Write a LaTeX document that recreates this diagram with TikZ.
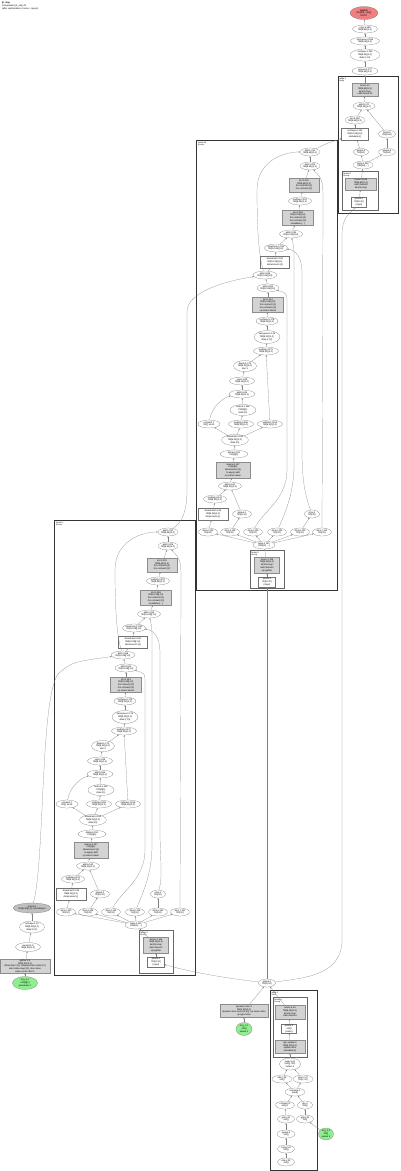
\documentclass[tikz,border=0pt]{standalone}
\usepackage{fontspec}
\setmainfont{Liberation Sans}
\usetikzlibrary{shapes.geometric,arrows.meta}
\definecolor{redn}{RGB}{240,128,128}
\definecolor{grn}{RGB}{144,238,144}
\definecolor{gbx}{RGB}{211,211,211}
\definecolor{gel}{RGB}{192,192,192}
\newcommand{\lyA}{\{1,0\}}
\tikzset{
 every node/.style={font=\fontsize{2.3}{2.7}\selectfont},
 ell/.style={ellipse, draw=black!55, line width=0.2pt, fill=white, inner sep=0pt, align=center},
 gbox/.style={rectangle, draw=black!45, line width=0.2pt, fill=gbx, inner sep=0.4pt, align=center},
 wbox/.style={rectangle, draw=black!55, line width=0.2pt, fill=white, inner sep=0.4pt, align=center},
 sz/.style 2 args={minimum width=#1pt, minimum height=#2pt},
 edg/.style={draw=black!50, line width=0.2pt, -{Stealth[length=1.6pt,width=1.3pt]}},
 clus/.style={draw=black!80, line width=0.45pt},
 iclus/.style={draw=black!60, line width=0.7pt},
 lab/.style={anchor=north west, inner sep=0.3pt, align=left, font=\fontsize{2.1}{2.5}\selectfont},
}
% #1 prefix, #2 shift, #3 n24 x, #4 inner cluster x, #5 n23 x, #6 bottom y
\newcommand{\fuscluster}[6]{%
\begin{scope}[shift={#2}]
\draw[clus] (196.7,140) rectangle (337,#6);
\node[lab] (#1lab) at (197.7,141) {fusion.#1\\kLoop};
\node[ell, sz={20}{8}] (#1n1) at (310,152) {add.1.210\\f32[8,64]\lyA};
\node[ell, sz={20}{8}] (#1n2) at (310,166) {add.0.209\\f32[8,64]\lyA};
\node[gbox, sz={30}{14}] (#1b1) at (304,185) {dot.3.205\\f32[8,64]\lyA\\lhs contract=\{1\}\\rhs contract=\{0\}};
\node[ell, sz={23}{8}] (#1n3) at (300,201) {multiply.2.201\\f32[8,64]\lyA};
\node[gbox, sz={31}{15}] (#1b2) at (298,218) {dot.2.198\\f32[8,128]\lyA\\lhs contract=\{1\}\\rhs contract=\{0\}\\metadata=\{...\}};
\node[ell, sz={23}{8}] (#1n4) at (291,234) {add.2.195\\f32[8,128]\lyA};
\node[ell, sz={23}{8}] (#1n5) at (276,248) {maximum.1.192\\f32[8,128]\lyA};
\node[wbox, sz={29}{12}] (#1b3) at (275,262) {broadcast.3.190\\f32[8,128]\lyA\\dimensions=\{1\}};
\node[ell, sz={24}{8}] (#1n6) at (265,275) {add.3.188\\f32[8,128]\lyA};
\node[ell, sz={22}{8}] (#1n7) at (268,288) {add.4.185\\f32[8,128]\lyA};
\node[gbox, sz={31}{15}] (#1b4) at (268,305) {dot.1.181\\f32[8,128]\lyA\\lhs contract=\{1\}\\rhs contract=\{0\}\\op name=dense};
\node[ell, sz={22}{8}] (#1n8) at (267,321) {reshape.5.178\\f32[8,32]\lyA};
\node[ell, sz={26}{13}] (#1n9) at (267,337) {transpose.2.176\\f32[8,32]\lyA\\dims=\{1,0\}};
\node[ell, sz={25}{8}] (#1n10) at (266,351) {multiply.4.172\\f32[8,32]\lyA};
\node[ell, sz={23}{11}] (#1n11) at (245,366) {divide.1.170\\f32[8,32]\lyA\\div=1};
\node[ell, sz={25}{8}] (#1n12) at (242,381) {sqrt.1.168\\f32[8,32]\lyA};
\node[ell, sz={26}{8}] (#1n13) at (242,394) {add.5.165\\f32[8,32]\lyA};
\node[ell, sz={26}{11}] (#1n14) at (243,410) {reduce.1.161\\f32[8]\{0\}\\dims=\{1\}};
\node[ell, sz={22}{8}] (#1n15) at (209,424) {constant.7\\f32[] 1e-05};
\node[ell, sz={25}{8}] (#1n16) at (241,424) {multiply.5.158\\f32[8,32]\lyA};
\node[ell, sz={25}{8}] (#1n17) at (270,424) {subtract.1.156\\f32[8,32]\lyA};
\node[ell, sz={27}{11}] (#1n18) at (235,440) {broadcast.4.153\\f32[8,32]\lyA\\dims=\{0\}};
\node[ell, sz={28}{8}] (#1n19) at (234,454) {divide.2.150\\f32[8]\{0\}};
\node[gbox, sz={34}{16}] (#1b5) at (233,470) {reduce.2.147\\f32[8]\{0\}\\dimensions=\{1\}\\to apply=add\\op name=mean};
\node[ell, sz={23}{8}] (#1n20) at (230,486) {add.6.144\\f32[8,32]\lyA};
\node[ell, sz={23}{8}] (#1n21) at (215,499) {multiply.6.141\\f32[8,32]\lyA};
\node[wbox, sz={30}{12}] (#1b6) at (213,514) {broadcast.5.139\\f32[8,32]\lyA\\dimensions=\{\}};
\node[ell, sz={19}{8}] (#1n22) at (242,514) {param.1\\f32[8,32]};
\node[ell, sz={15}{8}] (#1n23) at (#5,514) {slice.1\\f32[32]};
\node[ell, sz={19}{8}] (#1r1) at (208,532) {slice.2.130\\f32[32]};
\node[ell, sz={19}{8}] (#1r2) at (230,532) {slice.3.128\\f32[32]};
\node[ell, sz={19}{8}] (#1r3) at (253,532) {slice.4.126\\f32[32]};
\node[ell, sz={19}{8}] (#1r4) at (277,532) {slice.5.124\\f32[32]};
\node[ell, sz={19}{8}] (#1r5) at (300,532) {slice.6.122\\f32[32]};
\node[ell, sz={19}{8}] (#1r6) at (322,532) {slice.7.121\\f32[32]};
\node[ell, sz={22}{8}] (#1n24) at (#3,545) {tuple.2.120\\(f32[32], ...)};
\draw[iclus] (#4-17,550) rectangle (#4+17,#6-2);
\node[lab] (#1ilab) at (#4-16,551) {fusion.2\\kLoop};
\node[gbox, sz={25}{16}] (#1b7) at (#4,565) {fusion.2.118\\f32[8,32]\lyA\\kind=kLoop\\calls=fused.2\\op=gather};
\node[wbox, sz={17}{10}] (#1b8) at (#4,582) {param.0\\f32[8,32]\\(input)};
\draw[edg] (#1n2) -- (#1n1);
\draw[edg] (#1b1) -- (#1n2);
\draw[edg] (#1n3) -- (#1b1);
\draw[edg] (#1b2) -- (#1n3);
\draw[edg] (#1n4) -- (#1b2);
\draw[edg] (#1n5) -- (#1n4);
\draw[edg] (#1b3) -- (#1n5);
\draw[edg] (#1n6) -- (#1b3);
\draw[edg] (#1n7) -- (#1n6);
\draw[edg] (#1b4) -- (#1n7);
\draw[edg] (#1n8) -- (#1b4);
\draw[edg] (#1n9) -- (#1n8);
\draw[edg] (#1n10) -- (#1n9);
\draw[edg] (#1n11) -- (#1n10);
\draw[edg] (#1n12) -- (#1n11);
\draw[edg] (#1n13) -- (#1n12);
\draw[edg] (#1n14) -- (#1n13);
\draw[edg] (#1n16) -- (#1n14);
\draw[edg] (#1n15) .. controls (212,405) and (225,397) .. (#1n13);
\draw[edg] (#1n17) -- (#1n10);
\draw[edg] (#1n18) -- (#1n15);
\draw[edg] (#1n18) -- (#1n16);
\draw[edg] (#1n18) -- (#1n17);
\draw[edg] (#1n19) -- (#1n18);
\draw[edg] (#1b5) -- (#1n19);
\draw[edg] (#1n20) -- (#1b5);
\draw[edg] (#1n21) -- (#1n20);
\draw[edg] (#1n22) -- (#1n20);
\draw[edg] (#1b6) -- (#1n21);
\draw[edg] (#1r1) -- (#1b6);
\draw[edg] (#1r2) -- (#1n22);
\draw[edg] (#1r5) -- (#1n23);
\draw[edg] (#1r3) .. controls (262,512) and (287,500) .. (287,470) -- (287,305) .. controls (287,293) .. (#1n7);
\draw[edg] (#1r4) .. controls (284,515) and (294,495) .. (294,465) -- (294,262) .. controls (294,248) .. (#1n4);
\draw[edg] (#1n23) .. controls (305,495) and (302,480) .. (302,450) -- (302,272) .. controls (302,258) and (296,250) .. (#1n5);
\draw[edg] (#1r6) -- (323,205) .. controls (323,180) .. (#1n2);
\draw[edg] (#1n6) .. controls (258,255) and (257,220) .. (257,190) .. controls (257,162) and (282,152) .. (#1n1);
\foreach \i in {1,...,6} {\draw[edg] (#1n24) -- (#1r\i);}
\draw[edg] (#1b7) -- (#1n24);
\draw[edg] (#1b8) -- (#1b7);
\end{scope}}
\begin{document}
\begin{tikzpicture}[x=1pt,y=-1pt]
\useasboundingbox (0,0) rectangle (400,1171);
\fill[white] (0,0) rectangle (400,1171);
% title
\node[lab, font=\fontsize{2.3}{2.8}\selectfont] (title) at (1.5,1.5) {\textbf{jit\_step}\\Computation jit\_step.42\\(after optimizations, fusion + layout)};
% top chain
\node[ell, fill=redn, sz={28}{13}] (root) at (364,13) {\textbf{tuple.9}\\(f32[64], s32[])\\ROOT};
\node[ell, sz={25}{8}] (e1) at (365,29) {copy.5.188\\f32[8,64]\lyA};
\node[ell, sz={29}{8}] (e2) at (365,41) {transpose.4.186\\f32[64,8]\lyA};
\node[ell, sz={30}{12}] (e3) at (365,55) {reshape.3.180\\f32[8,64]\lyA\\dims=\{1,0\}};
\node[ell, sz={26}{8}] (e4) at (365,71) {convert.2.177\\f32[8,64]\lyA};
% top-right cluster
\draw[clus] (338,76) rectangle (398.5,213);
\node[lab] (trlab) at (339,77) {while.1\\body};
\node[gbox, sz={26}{13}] (t1) at (365,90) {fusion.10\\f32[8,64]\lyA\\kind=kLoop\\calls=fused.10};
\node[ell, sz={22}{8}] (t2) at (364,106) {add.8.170\\f32[8,64]\lyA};
\node[ell, sz={20}{8}] (t3) at (355,120) {dot.4.166\\f32[8,64]\lyA};
\node[wbox, sz={27}{12}] (t4) at (355,134) {reshape.6.163\\f32[8,128]\lyA\\metadata=\{\}};
\node[ell, sz={17}{8}] (t5) at (387,134) {bcast.6\\f32[8,64]};
\node[ell, sz={15}{7}] (t6) at (361,152) {param.5\\f32[64]};
\node[ell, sz={17}{7}] (t7) at (387,152) {param.6\\f32[64]};
\node[ell, sz={20}{8}] (t8) at (363,165) {tuple.4.150\\(f32[64],...)};
\draw[iclus] (342,171) rectangle (378,210);
\node[lab] (trilab) at (343,172) {fusion.9\\kLoop};
\node[gbox, sz={31}{12}] (t9) at (361,184) {fusion.9.148\\f32[8,64]\lyA\\calls=fused.9\\kind=kLoop};
\node[wbox, sz={15}{10}] (t10) at (359,202) {param.0\\f32[8,32]\\(input)};
\draw[edg] (e1) -- (root);
\draw[edg] (e2) -- (e1);
\draw[edg] (e3) -- (e2);
\draw[edg] (e4) -- (e3);
\draw[edg] (t1) -- (e4);
\draw[edg] (t2) -- (t1);
\draw[edg] (t3) -- (t2);
\draw[edg] (t4) -- (t3);
\draw[edg] (t5) -- (t2);
\draw[edg] (t6) -- (t4);
\draw[edg] (t7) -- (t5);
\draw[edg] (t8) -- (t6);
\draw[edg] (t8) -- (t7);
\draw[edg] (t9) -- (t8);
\draw[edg] (t10) -- (t9);
% the two fusion clusters
\fuscluster{M}{(0,0)}{264}{267}{312}{590}
\fuscluster{L}{(-142,380)}{278}{298}{300}{595}
% left column
\node[ell, fill=gel, sz={35}{10}] (l1) at (32,908) {fusion.3\\f32[8,32]\lyA, kind=kInput};
\node[ell, sz={25}{12}] (l2) at (32,927) {reshape.1.12\\f32[8,32]\lyA\\dims=\{0,1\}};
\node[ell, sz={25}{9}] (l3) at (28,947) {convert.1.9\\f32[8,32]\lyA};
\node[gbox, sz={50}{14}] (l4) at (25,966) {gather.1.6\\f32[8,32]\lyA\\offset dims=\{1\}, collapsed slice dims=\{0\}\\start index map=\{0\}, slice sizes\\index vector dim=1};
\node[ell, fill=grn, sz={25}{13}] (l5) at (25,983) {Arg\_0.1\\s32[8]\{0\}\\parameter 0};
\draw[edg] (l2) -- (l1);
\draw[edg] (l3) -- (l2);
\draw[edg] (l4) -- (l3);
\draw[edg] (l5) -- (l4);
% bottom: parameter node and bottom-right cluster
\node[ell, sz={17}{8}] (p) at (267,983) {param.0\\f32[8,32]};
\node[gbox, sz={48}{13}] (g) at (244,1011) {dynamic-slice.3\\f32[1,32]\lyA\\dynamic slice sizes=\{1,32\}, op name=slice\\op type=slice};
\node[ell, fill=grn, sz={16}{13}] (g2) at (244,1029) {Arg\_1.2\\s32[]\\param 1};
\draw[clus] (270,990) rectangle (317,1170);
\node[lab] (brlab) at (271,991) {while.2\\cond};
\draw[iclus] (273,997) rectangle (307,1057);
\node[lab] (brilab) at (274,998) {fusion.4\\kLoop};
\node[gbox, sz={30}{14}] (br1) at (290,1012) {fusion.4.44\\f32[8,32]\lyA\\kind=kLoop\\calls=fused.4};
\node[wbox, sz={15}{9}] (br2) at (289,1029) {param.3\\s32[]\\(index)};
\node[gbox, sz={30}{13}] (br3) at (290,1047) {dyn-update.2\\f32[8,32]\lyA\\update slice\\metadata=\{\}};
\node[ell, sz={21}{12}] (br4) at (290,1064) {tuple.3.40\\(s32[], f32)\\index=1};
\node[ell, sz={20}{8}] (br5) at (282,1079) {add.7.38\\s32[]};
\node[ell, sz={20}{8}] (br6) at (303,1079) {slice.2.37\\f32[1,32]};
\node[ell, sz={20}{8}] (br7) at (295,1092) {compare.1\\pred[]};
\node[ell, sz={19}{8}] (br8) at (285,1105) {constant.3\\s32[] 1};
\node[ell, sz={15}{8}] (br9) at (305,1105) {gte.4\\s32[]};
\node[ell, sz={17}{8}] (br10) at (286,1119) {gte.5.30\\s32[]};
\node[ell, sz={17}{8}] (br11) at (305,1119) {gte.6.29\\f32[]};
\node[ell, sz={18}{8}] (br12) at (286,1134) {param.4\\s32[]};
\node[ell, sz={17}{8}] (br13) at (286,1149) {copy.2.24\\s32[]};
\node[ell, sz={17}{8}] (br14) at (286,1162) {iota.1.20\\s32[]};
\node[ell, fill=grn, sz={15}{12}] (g3) at (326,1134) {Arg\_2.3\\f32[]\\param 2};
\draw[edg] (br2) -- (br1);
\draw[edg] (br3) -- (br2);
\draw[edg] (br4) -- (br3);
\draw[edg] (br5) -- (br4);
\draw[edg] (br6) -- (br4);
\draw[edg] (br7) -- (br5);
\draw[edg] (br7) -- (br6);
\draw[edg] (br8) -- (br7);
\draw[edg] (br9) -- (br7);
\draw[edg] (br10) -- (br8);
\draw[edg] (br11) -- (br9);
\draw[edg] (g3) -- (br11);
\draw[edg] (br12) -- (br10);
\draw[edg] (br13) -- (br12);
\draw[edg] (br14) -- (br13);
\draw[edg] (g2) -- (g);
\draw[edg] (g) -- (p);
\draw[edg] (br1) -- (p);
% long connectors between clusters
\draw[edg] (Mn1) .. controls (325,144) .. (t4);
\draw[edg] (Ln1) .. controls (182,522) and (187,512) .. (187,490) -- (187,312) .. controls (187,292) and (225,281) .. (Mn6);
\draw[edg] (l1) .. controls (45,860) and (40,700) .. (58,674) .. controls (72,662) .. (Ln6);
\draw[edg] (p) -- (Mb8);
\draw[edg] (p) .. controls (225,978) and (190,972) .. (Lb8);
\draw[edg] (p) .. controls (305,978) and (342,975) .. (342,940) -- (342,235) .. controls (342,215) and (352,212) .. (t10);
\end{tikzpicture}
\end{document}
